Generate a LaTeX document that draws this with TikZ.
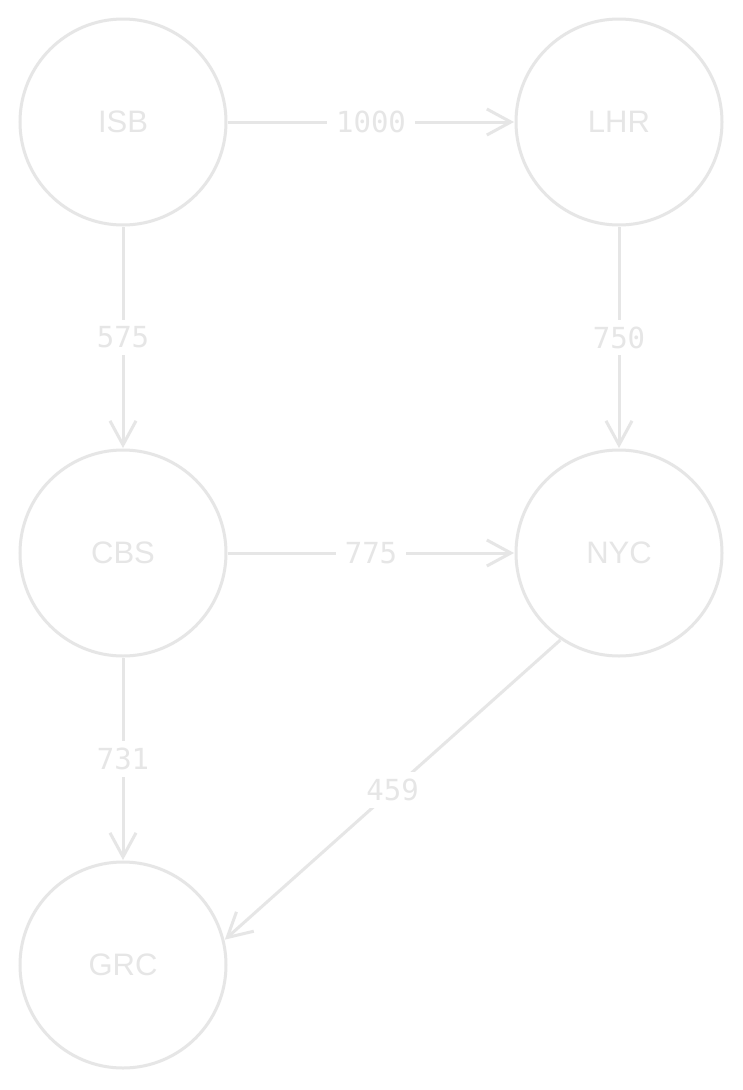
\documentclass[tikz,border=0pt]{standalone}
\usepackage{fontspec}
\setmainfont{Liberation Sans}
\newfontfamily\labelfont{DejaVu Sans Mono}
\usetikzlibrary{arrows.meta}
\definecolor{ink}{RGB}{230,230,230}
\tikzset{
  city/.style={circle, draw=ink, line width=3pt, minimum size=206pt, inner sep=0pt, outer sep=2pt, text=ink, font=\fontsize{31}{36}\selectfont},
  route/.style={draw=ink, line width=3pt, -{Straight Barb[length=24pt,width=26pt,line width=3pt]}},
  dist/.style={fill=white, text=ink, inner xsep=9pt, inner ysep=7pt, font=\labelfont\fontsize{29}{34}\selectfont}
}
\begin{document}
\begin{tikzpicture}[x=1pt,y=-1pt]
\useasboundingbox[fill=white] (0,0) rectangle (743,1090);
\node[city] (isb) at (123,122) {ISB};
\node[city] (lhr) at (619,122) {LHR};
\node[city] (cbs) at (123,553) {CBS};
\node[city] (nyc) at (619,553) {NYC};
\node[city] (grc) at (123,965) {GRC};
\draw[route] (isb) -- node[dist] {1000} (lhr);
\draw[route] (isb) -- node[dist] {575} (cbs);
\draw[route] (lhr) -- node[dist] {750} (nyc);
\draw[route] (cbs) -- node[dist] {775} (nyc);
\draw[route] (cbs) -- node[dist] {731} (grc);
\draw[route] (nyc.236) -- node[dist] {459} (grc.14);
\end{tikzpicture}
\end{document}
